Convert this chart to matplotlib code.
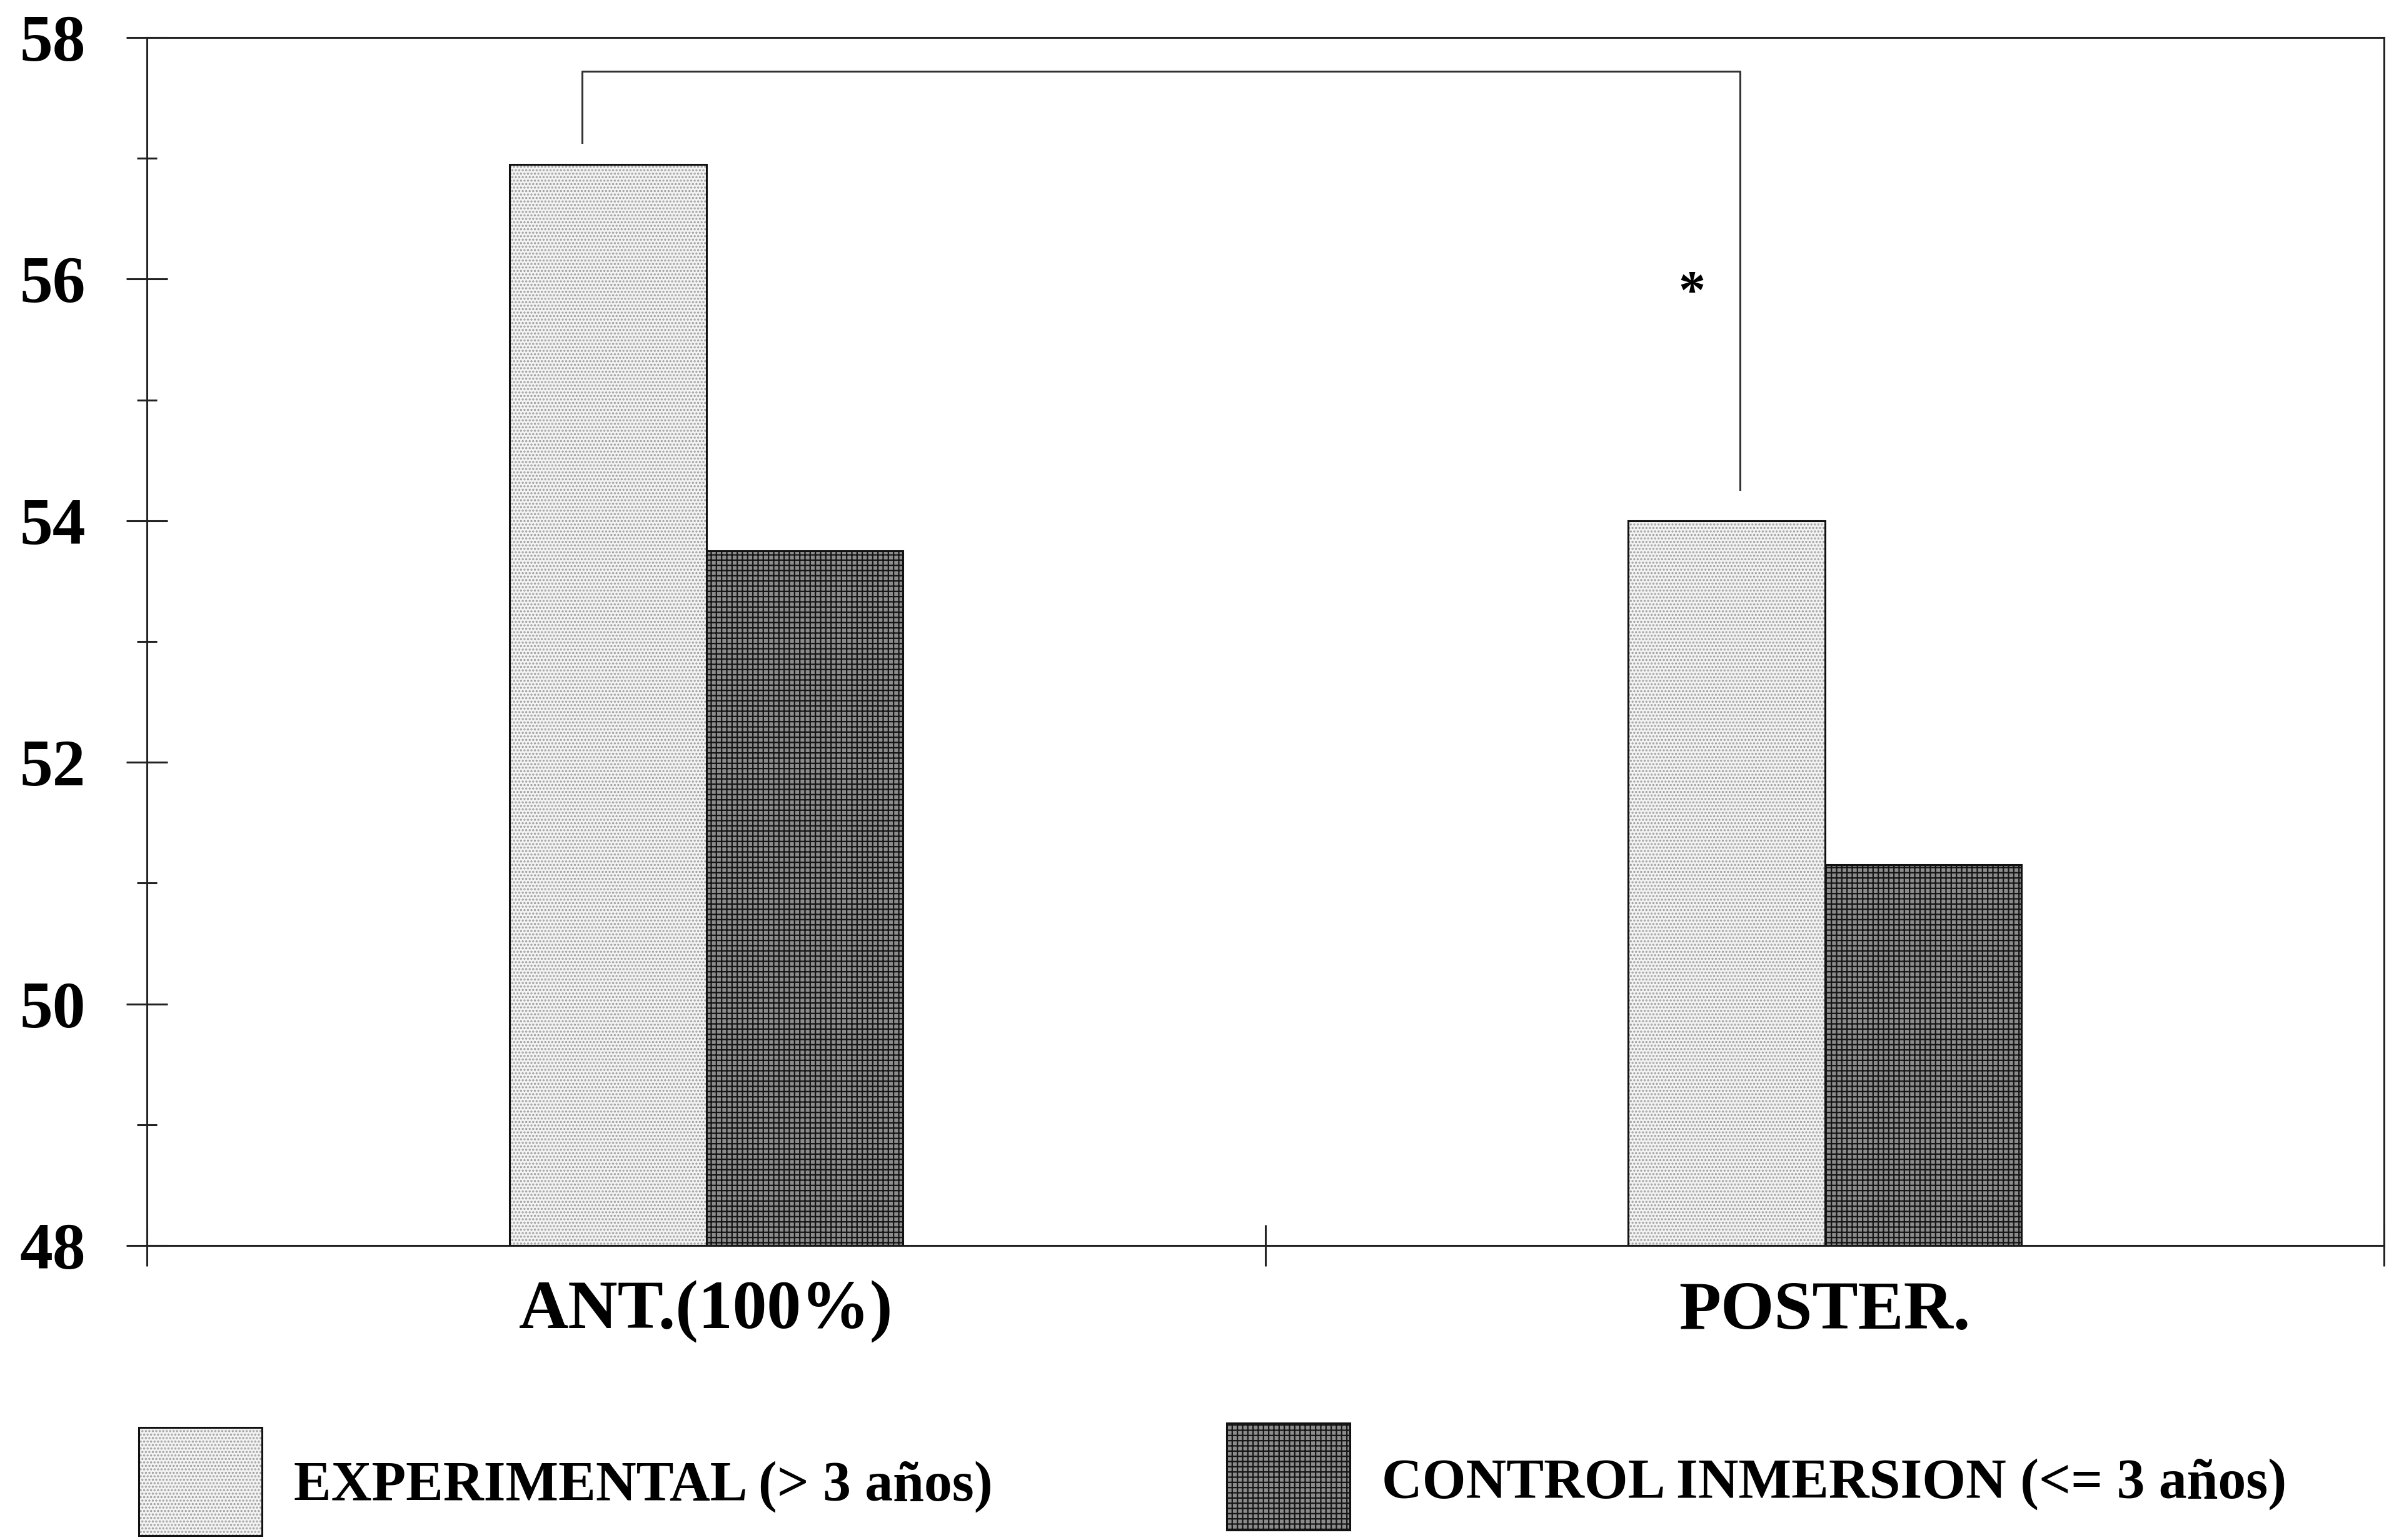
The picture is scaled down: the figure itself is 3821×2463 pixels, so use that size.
import matplotlib
matplotlib.use("Agg")
import matplotlib.pyplot as plt
from matplotlib.patches import Rectangle
from matplotlib.ticker import FixedLocator, NullFormatter, FixedFormatter

plt.rcParams['font.family'] = ['Liberation Serif', 'DejaVu Serif']
plt.rcParams['font.weight'] = 'bold'
plt.rcParams['hatch.linewidth'] = 1.6

# ---- data ----
categories = ["ANT.(100%)", "POSTER."]
series_names = ["EXPERIMENTAL (> 3 años)", "CONTROL INMERSION (<= 3 años)"]
experimental = [56.95, 54.0]
control = [53.75, 51.15]
y_ticks = [48, 50, 52, 54, 56, 58]
y_minor = [49, 51, 53, 55, 57]
# significance bracket (data coords) and asterisk
bracket_x = [0.389, 0.389, 1.424, 1.424]
bracket_y = [57.13, 57.72, 57.72, 54.26]
star_xy = (1.381, 55.87)

W, H = 3821, 2463
fig = plt.figure(figsize=(W / 100, H / 100), dpi=100)
ax = fig.add_axes([235 / W, 1 - 1992 / H, (3813 - 235) / W, (1992 - 60) / H])

exp_face, exp_hatch, exp_pat = '#f3f3f3', '#a0a0a0', '...'
ctl_face, ctl_hatch, ctl_pat = '#8c8c8c', '#151515', '++'

centers = [0.5, 1.5]
bw = 0.176
xe = [c - bw / 2 for c in centers]
xc = [c + bw / 2 for c in centers]
base = 48
he = [v - base for v in experimental]
hc = [v - base for v in control]

ax.bar(xe, he, bw, bottom=base, color=exp_face, edgecolor=exp_hatch, hatch=exp_pat, linewidth=0, zorder=2)
ax.bar(xc, hc, bw, bottom=base, color=ctl_face, edgecolor=ctl_hatch, hatch=ctl_pat, linewidth=0, zorder=2)
ax.bar(xe, he, bw, bottom=base, fill=False, edgecolor='#111111', linewidth=2.2, zorder=3)
ax.bar(xc, hc, bw, bottom=base, fill=False, edgecolor='#111111', linewidth=2.2, zorder=3)

ax.plot(bracket_x, bracket_y, color='#333333', linewidth=2.2, zorder=4)
ax.text(star_xy[0], star_xy[1], '*', fontsize=62, ha='center', va='center', fontweight='bold')

ax.set_xlim(0, 2)
ax.set_ylim(48, 58)

for s in ax.spines.values():
    s.set_linewidth(2.2)
    s.set_color('#222222')

ax.yaxis.set_major_locator(FixedLocator(y_ticks))
ax.yaxis.set_minor_locator(FixedLocator(y_minor))
ax.set_yticklabels([str(t) for t in y_ticks])
ax.tick_params(axis='y', which='major', direction='inout', length=47, width=2.2,
               labelsize=76, pad=47, right=False, colors='#222222', labelcolor='black')
ax.tick_params(axis='y', which='minor', direction='inout', length=23, width=2.2,
               right=False, colors='#222222')

ax.xaxis.set_major_locator(FixedLocator([0, 1, 2]))
ax.xaxis.set_major_formatter(NullFormatter())
ax.xaxis.set_minor_locator(FixedLocator(centers))
ax.xaxis.set_minor_formatter(FixedFormatter(categories))
ax.tick_params(axis='x', which='major', direction='inout', length=48, width=2.2, top=False, colors='#222222')
ax.tick_params(axis='x', which='minor', length=0, labelsize=79, pad=40, top=False)

for lab in ax.get_yticklabels() + ax.get_xticklabels(minor=True):
    lab.set_fontweight('bold')

# ---- legend (manual, figure coords) ----
fig.add_artist(Rectangle((222 / W, 1 - 2456 / H), 197 / W, 173 / H, transform=fig.transFigure,
                         facecolor=exp_face, edgecolor=exp_hatch, hatch=exp_pat, linewidth=0))
fig.add_artist(Rectangle((222 / W, 1 - 2456 / H), 197 / W, 173 / H, transform=fig.transFigure,
                         fill=False, edgecolor='#111111', linewidth=2.2))
fig.add_artist(Rectangle((1962 / W, 1 - 2447 / H), 197 / W, 171 / H, transform=fig.transFigure,
                         facecolor=ctl_face, edgecolor=ctl_hatch, hatch=ctl_pat, linewidth=0))
fig.add_artist(Rectangle((1962 / W, 1 - 2447 / H), 197 / W, 171 / H, transform=fig.transFigure,
                         fill=False, edgecolor='#111111', linewidth=2.2))
fig.text(470 / W, 1 - 2400 / H, series_names[0], fontsize=64.5, fontweight='bold', va='baseline', ha='left')
fig.text(2210 / W, 1 - 2396 / H, series_names[1], fontsize=64.5, fontweight='bold', va='baseline', ha='left')

fig.savefig('out.png', dpi=100, facecolor='white')
